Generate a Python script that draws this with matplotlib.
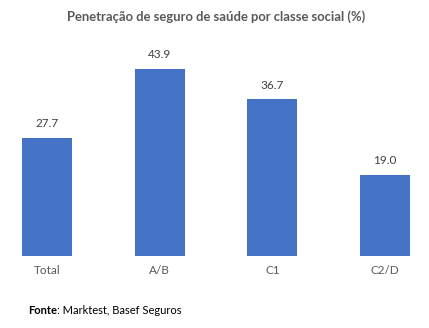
import matplotlib.pyplot as plt

plt.rcParams['font.family'] = ['Lato', 'DejaVu Sans']

classes = ['Total', 'A/B', 'C1', 'C2/D']
penetration = [27.7, 43.9, 36.7, 19.0]

W, H = 429, 328
fig = plt.figure(figsize=(W / 100, H / 100), dpi=100)

# plot area in pixels: first bar centre at 47, step ~112.7, baseline at y=255.7
step = 112.67
x0 = 47 - 0.4 * step
x1 = 385 + 0.4 * step
y_base = 255.7
px_per_unit = 4.26
ymax = 50
ax = fig.add_axes([x0 / W, 1 - y_base / H, (x1 - x0) / W, ymax * px_per_unit / H])

xs = range(len(classes))
bars = ax.bar(xs, penetration, width=0.444, color='#4472C4')
ax.set_xlim(-0.4, 3.4)
ax.set_ylim(0, ymax)

for b, v in zip(bars, penetration):
    ax.annotate(f'{v:.1f}', (b.get_x() + b.get_width() / 2, v),
                xytext=(0, 6), textcoords='offset points',
                ha='center', va='bottom', fontsize=8.5, color='#404040')

ax.set_xticks(list(xs))
ax.set_xticklabels(classes, fontsize=8.5, color='#595959')
ax.tick_params(axis='x', length=0, pad=7)
ax.set_yticks([])
for s in ax.spines.values():
    s.set_visible(False)

fig.text(216 / W, 1 - 17 / H, 'Penetração de seguro de saúde por classe social (%)',
         ha='center', va='center', fontsize=9.4, fontweight='bold', color='#595959')

t = fig.text(28 / W, 1 - 311 / H, 'Fonte', ha='left', va='center',
             fontsize=8, fontweight='bold', color='#000000')
fig.canvas.draw()
bb = t.get_window_extent()
fig.text(bb.x1 / W, 1 - 311 / H, ': Marktest, Basef Seguros', ha='left', va='center',
         fontsize=8, color='#000000')

fig.savefig('out.png', dpi=100)
